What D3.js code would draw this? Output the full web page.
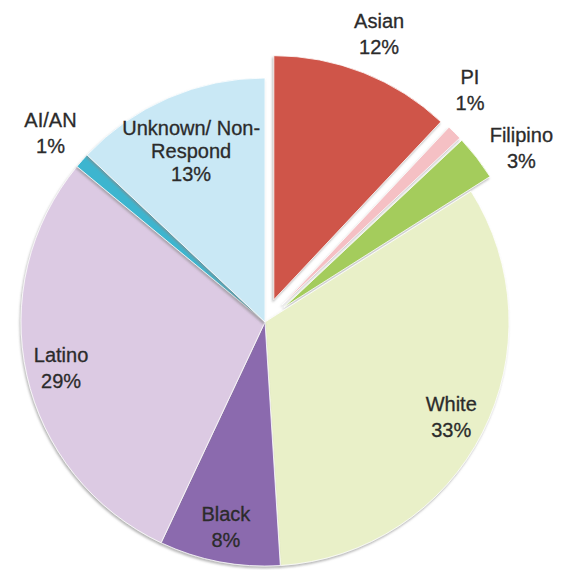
<!DOCTYPE html>
<html>
<head>
<meta charset="utf-8">
<script src="https://cdn.jsdelivr.net/npm/d3@7"></script>
<style>
  body { margin: 0; background: #fff; }
  svg { display: block; }
</style>
</head>
<body>
<div id="chart-area"></div>
<script>
const width = 571, height = 570;

// Data, clockwise from 12 o'clock
const groups = ["Asian", "PI", "Filipino", "White", "Black", "Latino", "AI/AN", "Unknown/ Non-Respond"];
const shares = [12, 1, 3, 33, 8, 29, 1, 13];
const labelLines = [
    ["Asian"], ["PI"], ["Filipino"], ["White"], ["Black"], ["Latino"], ["AI/AN"], ["Unknown/ Non-", "Respond"]
];
const exploded = ["Asian", "PI", "Filipino"];
const outsideLabels = ["Asian", "PI", "Filipino", "AI/AN"];
const sliceColors = ["#cf5448", "#f5c0c4", "#a4cc5c", "#e9f0c8", "#8b6aae", "#dccae3", "#3cb5cf", "#c9e8f5"];

const cx = 265, cy = 322, radius = 244;
const explodeBy = 24;

const color = d3.scaleOrdinal().domain(groups).range(sliceColors);

const data = groups.map((g, i) => ({group: g, value: shares[i], lines: labelLines[i]}));

const pie = d3.pie()
    .sort(null)
    .value(d => d.value);

const arc = d3.arc()
    .innerRadius(0)
    .outerRadius(radius);

const arcs = pie(data);

const svg = d3.select("#chart-area").append("svg")
    .attr("width", width)
    .attr("height", height);

const defs = svg.append("defs");
const shadow = defs.append("filter")
    .attr("id", "shadow")
    .attr("x", "-10%").attr("y", "-10%")
    .attr("width", "120%").attr("height", "120%");
shadow.append("feDropShadow")
    .attr("dx", -1).attr("dy", 2)
    .attr("stdDeviation", 1.2)
    .attr("flood-color", "#888")
    .attr("flood-opacity", 0.6);

const g = svg.append("g")
    .attr("transform", `translate(${cx},${cy})`);

const midAngle = d => (d.startAngle + d.endAngle) / 2;

// Offset of a slice along its mid-angle
function offset(d) {
    if (!exploded.includes(d.data.group)) return [0, 0];
    const a = midAngle(d);
    return [Math.sin(a) * explodeBy, -Math.cos(a) * explodeBy];
}

g.append("g")
    .selectAll("path")
    .data(arcs)
    .enter().append("path")
    .attr("transform", d => `translate(${offset(d)})`)
    .attr("d", arc)
    .attr("fill", d => color(d.data.group))
    .attr("stroke", "#fff")
    .attr("stroke-width", 0.8)
    .attr("filter", "url(#shadow)");

// Label angles: outside labels get pushed apart when too close
const labelAngle = new Map(arcs.map(d => [d.data.group, midAngle(d)]));
const outside = arcs.filter(d => outsideLabels.includes(d.data.group));
const minSep = 15 * Math.PI / 180;
for (let iter = 0; iter < 20; iter++) {
    for (let i = 0; i < outside.length - 1; i++) {
        const a = outside[i].data.group, b = outside[i + 1].data.group;
        const gap = labelAngle.get(b) - labelAngle.get(a);
        if (gap < minSep) {
            const push = (minSep - gap) / 2;
            labelAngle.set(a, labelAngle.get(a) - push);
            labelAngle.set(b, labelAngle.get(b) + push);
        }
    }
}

const labels = g.append("g")
    .selectAll("text")
    .data(arcs)
    .enter().append("text")
    .style("font", "20px 'Liberation Sans', Arial, sans-serif")
    .attr("fill", "#2b2b2b")
    .attr("stroke", "#2b2b2b")
    .attr("stroke-width", 0.3)
    .attr("text-anchor", "middle")
    .attr("transform", d => {
        const a = labelAngle.get(d.data.group);
        let r;
        if (outsideLabels.includes(d.data.group)) r = 286;
        else if (d.data.lines.length > 1) r = 186;
        else r = 209;
        const [ox, oy] = offset(d);
        return `translate(${ox + Math.sin(a) * r},${oy - Math.cos(a) * r})`;
    });

labels.each(function(d) {
    const lines = d.data.lines.concat([d.data.value + "%"]);
    const lineHeight = lines.length > 2 ? 23 : 26;
    const t = d3.select(this);
    const first = -(lines.length - 1) / 2 * lineHeight;
    lines.forEach((ln, i) => {
        t.append("tspan")
            .attr("x", 0)
            .attr("y", first + i * lineHeight)
            .attr("dy", "0.35em")
            .text(ln);
    });
});
</script>
</body>
</html>
